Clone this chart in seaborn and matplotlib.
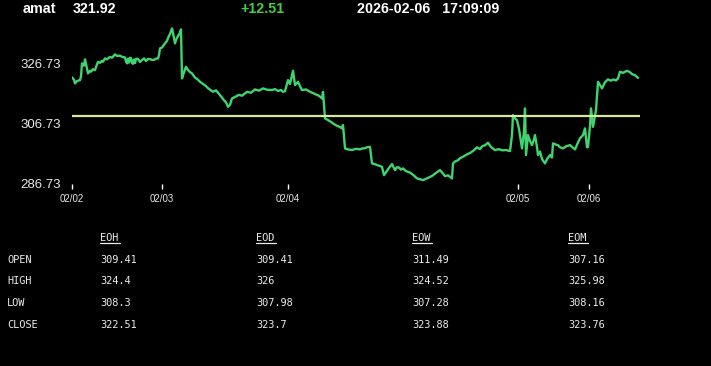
import matplotlib
matplotlib.use("Agg")
import matplotlib.pyplot as plt
import seaborn as sns
import pandas as pd
from matplotlib.lines import Line2D

# ---------------- data ----------------
symbol = "amat"
last_price = "321.92"
change = "+12.51"
timestamp = "2026-02-06   17:09:09"

# (bar index, price) per trading day
day_0202 = [(0, 322.09), (2, 321.3), (3, 320.10), (5, 320.9), (8, 321.19), (9, 322.5),
            (10, 326.73), (12, 326.0), (13, 328.06), (14, 326.5), (16, 323.42), (18, 324.3),
            (19, 324.0), (21, 324.8), (23, 324.51), (24, 325.5), (26, 327.26), (28, 326.9),
            (30, 327.6), (31, 327.3), (33, 328.39), (35, 328.1), (38, 328.9), (40, 328.6),
            (43, 329.72), (45, 329.2), (48, 329.3), (50, 328.9), (53, 328.72), (54, 327.4),
            (55, 326.73), (56, 328.3), (57, 327.0), (58, 328.6), (59, 328.49), (60, 326.9),
            (61, 326.6), (62, 328.0), (63, 326.83), (64, 328.3), (66, 328.2), (68, 327.2),
            (70, 327.83), (72, 328.4), (74, 327.5), (76, 328.2), (78, 328.16), (80, 327.9),
            (82, 327.9), (84, 328.3), (86, 328.39), (87, 329.5), (88, 331.71)]
day_0203 = [(90, 332.0), (93, 333.37), (95, 334.2), (96, 335.13), (98, 336.5), (100, 338.34),
            (101, 336.8), (103, 333.37), (104, 334.5), (106, 335.79), (108, 336.9),
            (109, 338.01), (110, 321.76), (112, 323.8), (114, 325.61), (116, 324.5),
            (118, 323.85), (120, 323.4), (123, 322.0), (125, 321.6), (128, 320.63),
            (131, 319.9), (134, 319.2), (136, 318.5), (141, 317.31), (144, 317.8),
            (148, 316.22), (150, 315.4), (152, 314.5), (154, 313.8), (156, 312.34),
            (158, 313.0), (160, 315.12), (163, 315.6), (167, 316.3), (170, 316.0),
            (175, 317.31), (179, 317.0), (183, 318.1), (187, 317.7), (191, 318.44),
            (195, 318.0), (200, 317.9), (203, 318.2), (206, 317.6), (209, 317.9),
            (211, 317.31), (213, 317.5)]
day_0204 = [(216, 321.19), (218, 319.9), (221, 324.28), (223, 319.54), (226, 320.63),
            (228, 319.2), (230, 317.88), (234, 318.1), (238, 317.31), (241, 316.9),
            (244, 316.4), (247, 316.0), (250, 315.12), (251, 317.31), (253, 308.49),
            (256, 307.93), (259, 307.3), (261, 306.83), (264, 306.2), (266, 305.9),
            (268, 305.6), (270, 305.17), (271, 306.27), (273, 298.54), (276, 298.2),
            (280, 298.0), (284, 298.4), (288, 298.21), (290, 298.5), (293, 298.6),
            (295, 298.9), (298, 299.07), (300, 293.56), (303, 293.3), (305, 293.0),
            (308, 292.7), (310, 292.43), (312, 289.68), (314, 290.6), (316, 291.6),
            (318, 292.5), (320, 293.33), (323, 291.34), (325, 292.3), (327, 292.2),
            (329, 291.5), (331, 291.90), (334, 291.0), (338, 290.5), (341, 289.8),
            (345, 288.59), (348, 288.3), (351, 288.02), (355, 288.6), (360, 289.4),
            (364, 290.4), (368, 291.34), (371, 290.2), (373, 289.35), (376, 289.6),
            (380, 288.59), (381, 293.56), (383, 294.2), (386, 294.6), (388, 295.3),
            (391, 295.75), (394, 296.4), (398, 297.0), (401, 297.7), (405, 298.87),
            (408, 298.3), (410, 299.2), (413, 299.6), (416, 300.40), (419, 299.0),
            (423, 297.98), (427, 298.3), (430, 297.9), (434, 298.0), (438, 297.64),
            (440, 303.0), (441, 309.58), (443, 308.5)]
day_0205 = [(445, 307.93), (447, 305.0), (450, 298.54), (452, 304.0), (453, 311.81),
            (454, 296.32), (456, 302.95), (458, 301.0), (460, 299.64), (462, 301.5),
            (463, 302.95), (465, 299.0), (466, 296.32), (468, 297.5), (470, 295.0),
            (473, 293.56), (475, 295.0), (478, 296.32), (480, 295.5), (481, 300.20),
            (484, 299.8), (486, 299.6), (488, 298.9), (491, 298.54), (494, 299.2),
            (498, 299.64), (500, 299.0), (503, 298.21), (506, 300.5), (508, 301.86),
            (511, 302.95), (513, 305.17), (515, 298.87), (516, 299.07)]
day_0206 = [(518, 306.0), (519, 311.81), (521, 305.70), (523, 309.5), (524, 311.24),
            (526, 320.63), (528, 319.5), (530, 318.44), (533, 320.5), (536, 321.43),
            (539, 321.0), (541, 321.4), (544, 321.1), (546, 321.76), (548, 323.95),
            (551, 323.6), (555, 324.28), (558, 323.8), (560, 323.18), (563, 322.8),
            (566, 321.92)]
reference_open = 309.41

day_tick_index = [0, 90, 216, 446, 517]
day_tick_labels = ["02/02", "02/03", "02/04", "02/05", "02/06"]
y_ticks = [286.73, 306.73, 326.73]

table_cols = ["EOH", "EOD", "EOW", "EOM"]
table_rows = ["OPEN", "HIGH", "LOW", "CLOSE"]
table_vals = [
    ["309.41", "309.41", "311.49", "307.16"],
    ["324.4", "326", "324.52", "325.98"],
    ["308.3", "307.98", "307.28", "308.16"],
    ["322.51", "323.7", "323.88", "323.76"],
]

# ---------------- style ----------------
sns.set_style("dark", {"axes.facecolor": "black", "figure.facecolor": "black"})
plt.rcParams["font.family"] = ["Liberation Sans", "DejaVu Sans"]

W, H = 711, 366
fig = plt.figure(figsize=(W / 100, H / 100), dpi=100)
fig.patch.set_facecolor("black")

ax_left, ax_right, ax_top, ax_bottom = 72, 640, 20, 184
ax = fig.add_axes([ax_left / W, 1 - ax_bottom / H, (ax_right - ax_left) / W,
                   (ax_bottom - ax_top) / H])
ax.set_facecolor("black")

rows = day_0202 + day_0203 + day_0204 + day_0205 + day_0206
df = pd.DataFrame(rows, columns=["idx", "price"])
sns.lineplot(data=df, x="idx", y="price", ax=ax, color="#3fd46f", linewidth=1.7)
ax.axhline(reference_open, color="#d6e8a0", linewidth=1.6)

# y scale: 286.73 at bottom pixel 184, 20 units per 60.3 px
units_per_px = 20 / 60.3
ax.set_xlim(0, 568)
ax.set_ylim(286.73, 286.73 + (ax_bottom - ax_top) * units_per_px)

ax.set_xticks(day_tick_index)
ax.set_xticklabels(day_tick_labels)
ax.set_yticks(y_ticks)
ax.set_yticklabels([f"{v:.2f}" for v in y_ticks])
ax.tick_params(axis="x", colors="white", length=3.5, width=1, pad=4,
               labelsize=7, labelcolor="#e8e8e8", bottom=True)
ax.tick_params(axis="y", length=0, pad=8, labelsize=9.5, labelcolor="#e8e8e8")
ax.set_xlabel("")
ax.set_ylabel("")
ax.grid(False)
for s in ax.spines.values():
    s.set_visible(False)

# ---------------- header ----------------
def fx(px):
    return px / W

def fy(py):
    return 1 - py / H

hdr = dict(fontsize=10.3, fontweight="bold", va="center", ha="left")
fig.text(fx(23), fy(9), symbol, color="white", **hdr)
fig.text(fx(73), fy(9), last_price, color="white", **hdr)
fig.text(fx(240), fy(9), change, color="#45cc45", **hdr)
fig.text(fx(357), fy(9), timestamp, color="white", **hdr)

# ---------------- table ----------------
mono = dict(family="DejaVu Sans Mono", fontsize=7.4, color="#ececec", va="center", ha="left")
col_x = [100, 256, 412, 568]
row_y = [260, 281.5, 303, 324.5]
for cx, name in zip(col_x, table_cols):
    fig.text(fx(cx), fy(238), name, **mono)
    fig.add_artist(Line2D([fx(cx), fx(cx + 20)], [fy(243), fy(243)],
                          color="#ececec", linewidth=0.9, transform=fig.transFigure))
for ry, rname, vals in zip(row_y, table_rows, table_vals):
    fig.text(fx(7), fy(ry), rname, **mono)
    for cx, v in zip(col_x, vals):
        fig.text(fx(cx), fy(ry), v, **mono)

fig.savefig("out.png", dpi=100, facecolor="black")
